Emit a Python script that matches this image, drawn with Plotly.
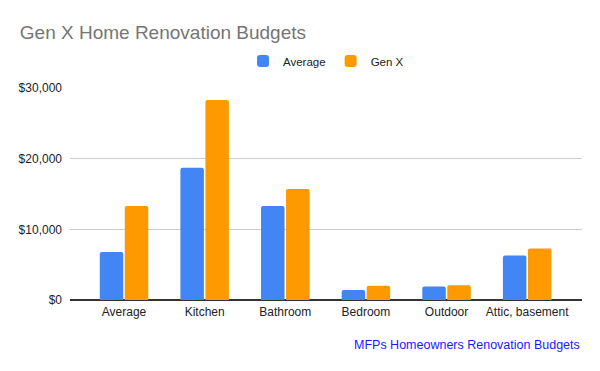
import plotly.graph_objects as go

categories = ["Average", "Kitchen", "Bathroom", "Bedroom", "Outdoor", "Attic, basement"]
average_vals = [6800, 18700, 13300, 1400, 1900, 6300]
genx_vals = [13300, 28300, 15700, 2000, 2100, 7300]
y_ticks = [0, 10000, 20000, 30000]
y_tick_labels = ["$0", "$10,000", "$20,000", "$30,000"]

FONT = "Arial, Liberation Sans, sans-serif"

fig = go.Figure()
fig.add_trace(go.Bar(x=categories, y=average_vals, name="Average",
                     marker=dict(color="#4285F4", line=dict(width=0))))
fig.add_trace(go.Bar(x=categories, y=genx_vals, name="Gen X",
                     marker=dict(color="#FF9900", line=dict(width=0))))

fig.update_layout(
    width=600, height=371,
    margin=dict(l=70, r=18, t=88, b=71),
    paper_bgcolor="white", plot_bgcolor="white",
    font=dict(family=FONT, size=12, color="#222222"),
    barmode="group", bargap=0.38, bargroupgap=0.06,
    barcornerradius=2,
    title=dict(text="Gen X Home Renovation Budgets", x=0.033, xanchor="left",
               y=0.914, yanchor="middle",
               font=dict(family=FONT, size=19, color="#757575")),
    legend=dict(orientation="h", x=0.5, xanchor="center", y=1.127, yanchor="middle",
                font=dict(size=11.5, color="#222222"), itemwidth=30,
                traceorder="normal"),
    xaxis=dict(range=[-0.67, 5.68], showgrid=False, showline=False, ticks="",
               ticklabelstandoff=3,
               tickfont=dict(size=12, color="#222222")),
    yaxis=dict(range=[0, 30000], tickvals=y_ticks, ticktext=y_tick_labels,
               showgrid=True, gridcolor="#cccccc", gridwidth=1,
               zeroline=True, zerolinecolor="#333333", zerolinewidth=1.5,
               ticks="", ticklabelstandoff=7,
               tickfont=dict(size=12, color="#222222")),
    annotations=[dict(text="MFPs Homeowners Renovation Budgets", xref="paper", yref="paper",
                      x=1.0, y=-0.212, xanchor="right", yanchor="middle", showarrow=False,
                      font=dict(family=FONT, size=12.5, color="#1a1aff"))],
)

fig.write_html("out.html",
               config={"displayModeBar": False},
               post_script="document.body.style.margin='0';document.body.style.padding='0';")
